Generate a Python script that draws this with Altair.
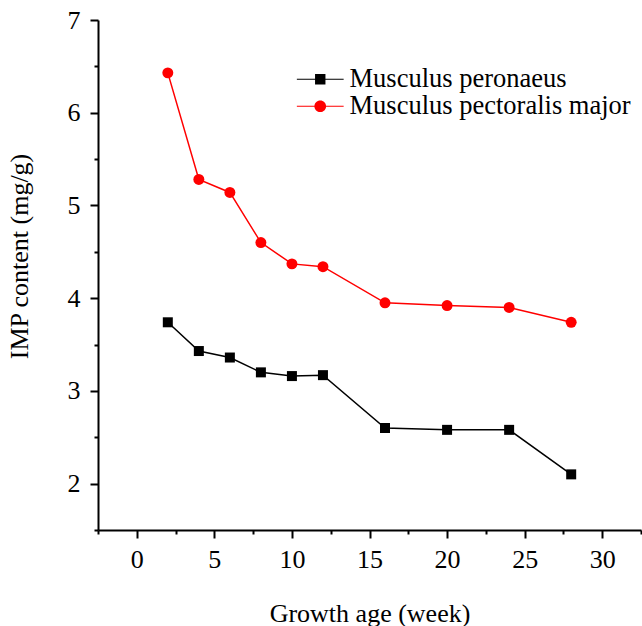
import altair as alt
import pandas as pd

weeks = [2, 4, 6, 8, 10, 12, 16, 20, 24, 28]
peronaeus = [3.74, 3.43, 3.36, 3.20, 3.16, 3.17, 2.60, 2.58, 2.58, 2.10]
pectoralis = [6.43, 5.28, 5.14, 4.60, 4.37, 4.34, 3.95, 3.92, 3.90, 3.74]
series_names = ["Musculus peronaeus", "Musculus pectoralis major"]
x_major = [0, 5, 10, 15, 20, 25, 30]
x_minor = [-2.5, 2.5, 7.5, 12.5, 17.5, 22.5, 27.5, 32.5]
y_major = [2, 3, 4, 5, 6, 7]
y_minor = [1.5, 2.5, 3.5, 4.5, 5.5, 6.5]

rows = []
for name, vals in zip(series_names, [peronaeus, pectoralis]):
    for w, v in zip(weeks, vals):
        rows.append({"week": w, "imp": v, "series": name})
df = pd.DataFrame(rows)

FONT = "Liberation Serif"
colors = ["#000000", "#ff0000"]

x_scale = alt.Scale(domain=[-2.5, 32.5], nice=False, zero=False)
y_scale = alt.Scale(domain=[1.5, 7], nice=False, zero=False)
color_scale = alt.Scale(domain=series_names, range=colors)

x_axis = alt.Axis(orient="bottom", values=x_major, tickSize=8, tickWidth=2, domainWidth=2,
                  domainColor="black", tickColor="black", grid=False,
                  labelOverlap=False, labelFlush=False,
                  labelFont=FONT, labelFontSize=26, labelColor="black",
                  labelPadding=8, title="Growth age (week)", titleFont=FONT,
                  titleFontSize=26, titleFontWeight="normal", titleColor="black",
                  titleBaseline="alphabetic", titleY=91)
y_axis = alt.Axis(orient="left", values=y_major, tickSize=8, tickWidth=2, domainWidth=2,
                  domainColor="black", tickColor="black", grid=False,
                  labelOverlap=False, labelFlush=False,
                  labelFont=FONT, labelFontSize=26, labelColor="black",
                  labelPadding=10, title="IMP content (mg/g)", titleFont=FONT,
                  titleFontSize=26, titleFontWeight="normal", titleColor="black",
                  titleX=-66, titleY=236)
x_minor_axis = alt.Axis(orient="bottom", values=x_minor, tickSize=4, tickWidth=2,
                        domain=False, labels=False, title=None, grid=False, tickColor="black")
y_minor_axis = alt.Axis(orient="left", values=y_minor, tickSize=4, tickWidth=2,
                        domain=False, labels=False, title=None, grid=False, tickColor="black")

base = alt.Chart(df)

lines = base.mark_line(strokeWidth=1.5).encode(
    x=alt.X("week:Q", scale=x_scale, axis=x_axis),
    y=alt.Y("imp:Q", scale=y_scale, axis=y_axis),
    color=alt.Color("series:N", scale=color_scale, legend=None),
    detail="series:N",
)

minor = base.mark_point(opacity=0).encode(
    x=alt.X("week:Q", scale=x_scale, axis=x_minor_axis),
    y=alt.Y("imp:Q", scale=y_scale, axis=y_minor_axis),
)

squares = base.mark_point(filled=True, opacity=1, shape="square", size=100).encode(
    x=alt.X("week:Q", scale=x_scale, axis=None),
    y=alt.Y("imp:Q", scale=y_scale, axis=None),
    color=alt.Color("series:N", scale=color_scale, legend=None),
).transform_filter(alt.datum.series == series_names[0])

circles = base.mark_point(filled=True, opacity=1, shape="circle", size=120).encode(
    x=alt.X("week:Q", scale=x_scale, axis=None),
    y=alt.Y("imp:Q", scale=y_scale, axis=None),
    color=alt.Color("series:N", scale=color_scale, legend=None),
).transform_filter(alt.datum.series == series_names[1])

# legend glyphs: a thin line stub with the marker in its middle (filled shapes only)
legend_paths = [
    "M-3.6,-0.08H3.6V0.08H-3.6ZM-0.8,-0.8H0.8V0.8H-0.8Z",
    "M-3.6,-0.08H3.6V0.08H-3.6ZM-0.9,0A0.9,0.9,0,1,1,0.9,0A0.9,0.9,0,1,1,-0.9,0Z",
]

legend_layer = base.mark_point(filled=True, opacity=0).encode(
    x=alt.X("week:Q", scale=x_scale, axis=None),
    y=alt.Y("imp:Q", scale=y_scale, axis=None),
    color=alt.Color("series:N", scale=alt.Scale(domain=series_names, range=colors),
                    legend=alt.Legend(title=None)),
    shape=alt.Shape("series:N", scale=alt.Scale(domain=series_names, range=legend_paths),
                    legend=alt.Legend(title=None)),
)

chart = alt.layer(lines, minor, squares, circles, legend_layer).resolve_axis(
    x="independent", y="independent"
).resolve_scale(color="independent", shape="independent").properties(
    width=543, height=510,
    autosize=alt.AutoSizeParams(type="none"),
    padding={"left": 98, "top": 20, "right": 1, "bottom": 96},
    background="white",
).configure_view(stroke=None).configure_legend(
    orient="none", legendX=209, legendY=46,
    labelFont=FONT, labelFontSize=26.5, labelColor="black",
    symbolSize=169, symbolOpacity=1, labelOffset=16, rowPadding=0, labelLimit=400,
    padding=0,
)

chart.save("out.html", embed_options={"renderer": "svg", "actions": False})
